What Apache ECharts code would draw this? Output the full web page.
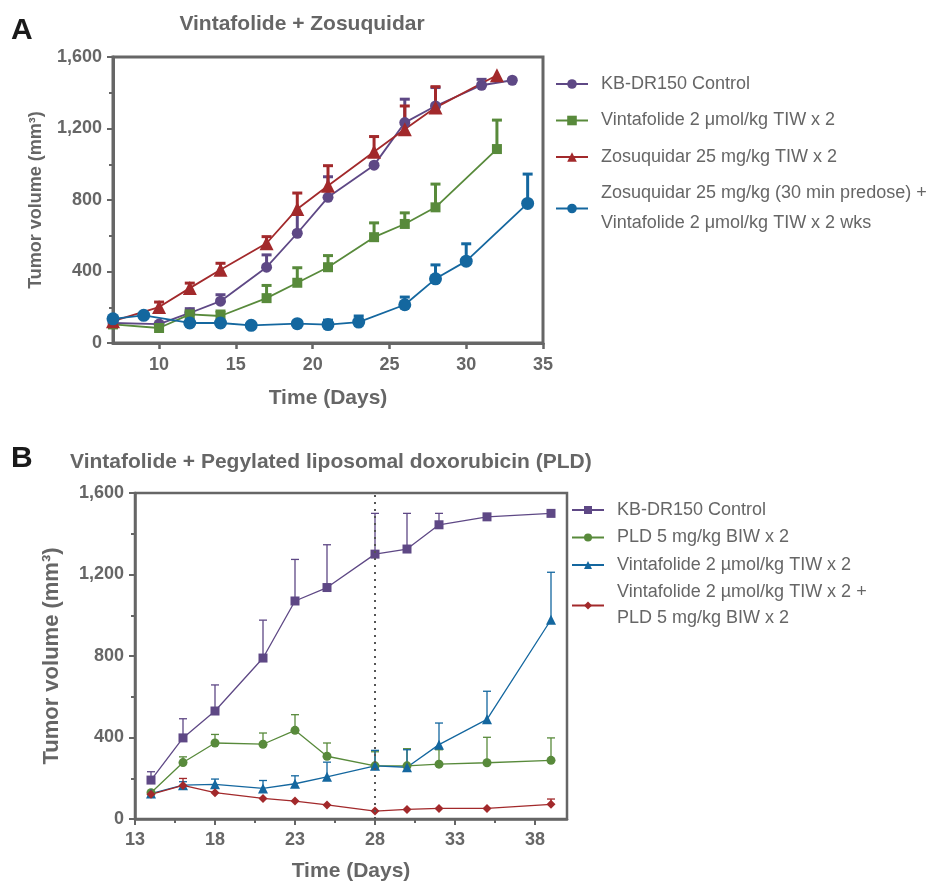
<!DOCTYPE html>
<html>
<head>
<meta charset="utf-8">
<script src="https://cdn.jsdelivr.net/npm/echarts@6/dist/echarts.min.js"></script>
<style>
html, body { margin: 0; padding: 0; background: #fff; }
#chart { width: 937px; height: 883px; }
</style>
</head>
<body>
<div id="chart"></div>
<script>
// ---- panel A : Vintafolide + Zosuquidar ----
var daysCtrlA  = [7, 10, 12, 14, 17, 19, 21, 24, 26, 28, 31, 33];
var ctrlA      = [112, 106, 168, 234, 424, 614, 815, 995, 1233, 1326, 1442, 1470];
var ctrlTopA   = [null, null, 192, 270, 493, 722, 930, null, 1364, 1429, 1475, null];

var daysVintaA = [7, 10, 12, 14, 17, 19, 21, 24, 26, 28, 32];
var vintaA     = [104, 84, 160, 151, 251, 337, 424, 592, 666, 759, 1085];
var vintaTopA  = [null, null, 178, 179, 322, 421, 489, 672, 728, 889, 1247];

var daysZosA   = [7, 10, 12, 14, 17, 19, 21, 24, 26, 28, 32];
var zosA       = [122, 201, 307, 410, 558, 750, 880, 1070, 1196, 1317, 1498];
var zosTopA    = [null, 229, 335, 446, 595, 839, 992, 1155, 1326, 1434, null];

var daysComboA = [7, 9, 12, 14, 16, 19, 21, 23, 26, 28, 30, 34];
var comboA     = [135, 155, 112, 112, 99, 108, 103, 117, 214, 359, 458, 781];
var comboTopA  = [null, null, null, null, null, null, 128, 151, 257, 437, 555, 945];

var xTicksA = [10, 15, 20, 25, 30, 35];

// ---- panel B : Vintafolide + PLD ----
var daysB      = [14, 16, 18, 21, 23, 25, 28, 30, 32, 35, 39];
var ctrlB      = [191, 398, 530, 790, 1070, 1136, 1300, 1325, 1444, 1483, 1500];
var ctrlTopB   = [232, 492, 658, 976, 1274, 1346, 1500, 1500, 1500, null, null];
var pldB       = [129, 277, 373, 367, 435, 308, 261, 261, 269, 276, 288];
var pldTopB    = [null, 305, 415, 422, 512, 373, 330, 345, 340, 401, 398];
var vintaB     = [125, 166, 170, 150, 173, 207, 261, 254, 365, 489, 978];
var vintaTopB  = [null, 183, 196, 189, 212, 279, 337, 340, 471, 627, 1211];
var comboB     = [121, 165, 129, 101, 88, 69, 39, 47, 52, 52, 72];
var comboTopB  = [null, 199, null, null, null, null, null, null, null, null, 98];

var xTicksB = [13, 18, 23, 28, 33, 38];
var xMinorB = [15.5, 20.5, 25.5, 30.5, 35.5];

var purple = '#5e4885', green = '#588a3b', red = '#a2292b', blue = '#14679f';
var grey = '#666666';
var font = "'Liberation Sans', Arial, sans-serif";

function pts(days, vals) {
  return days.map(function (d, i) { return [d, vals[i]]; });
}
function bars(days, vals, tops) {
  var out = [];
  days.forEach(function (d, i) {
    if (tops[i] != null) out.push([d, vals[i], tops[i]]);
  });
  return out;
}

function errSeries(idx, data, color, lw, cap) {
  return {
    type: 'custom',
    xAxisIndex: idx, yAxisIndex: idx,
    z: 1,
    silent: true,
    encode: { x: 0, y: [1, 2] },
    data: data,
    renderItem: function (params, api) {
      var p0 = api.coord([api.value(0), api.value(1)]);
      var p1 = api.coord([api.value(0), api.value(2)]);
      return {
        type: 'group',
        children: [
          { type: 'line', shape: { x1: p0[0], y1: p0[1], x2: p1[0], y2: p1[1] }, style: { stroke: color, lineWidth: lw } },
          { type: 'line', shape: { x1: p1[0] - cap, y1: p1[1], x2: p1[0] + cap, y2: p1[1] }, style: { stroke: color, lineWidth: lw } }
        ]
      };
    }
  };
}

function lineSeries(idx, name, data, color, symbol, size, lw) {
  return {
    type: 'line', name: name,
    xAxisIndex: idx, yAxisIndex: idx,
    z: 2,
    data: data,
    symbol: symbol, symbolSize: size,
    showAllSymbol: true,
    itemStyle: { color: color },
    lineStyle: { color: color, width: lw }
  };
}

var nA1 = 'A|KB-DR150 Control';
var nA2 = 'A|Vintafolide 2 \u03bcmol/kg TIW x 2';
var nA3 = 'A|Zosuquidar 25 mg/kg TIW x 2';
var nA4 = 'A|Zosuquidar 25 mg/kg (30 min predose) +\nVintafolide 2 \u03bcmol/kg TIW x 2 wks';
var nB1 = 'B|KB-DR150 Control';
var nB2 = 'B|PLD 5 mg/kg BIW x 2';
var nB3 = 'B|Vintafolide 2 \u00b5mol/kg TIW x 2';
var nB4 = 'B|Vintafolide 2 \u00b5mol/kg TIW x 2 +\nPLD 5 mg/kg BIW x 2';

function yAxisCfg(idx, lw, nameGap, nameSize) {
  return {
    type: 'value', gridIndex: idx,
    min: 0, max: 1600, interval: 400,
    name: 'Tumor volume (mm\u00b3)',
    nameLocation: 'middle', nameGap: nameGap,
    nameTextStyle: { color: grey, fontWeight: 'bold', fontSize: nameSize, fontFamily: font },
    axisLine: { show: true, lineStyle: { color: grey, width: lw } },
    axisTick: { show: true, length: 6, lineStyle: { color: grey, width: 2 } },
    minorTick: { show: true, splitNumber: 2, length: 4, lineStyle: { color: grey, width: 2 } },
    splitLine: { show: false },
    axisLabel: {
      color: grey, fontWeight: 'bold', fontSize: 18, fontFamily: font, margin: 11,
      formatter: function (v) { return v.toLocaleString('en-US'); }
    }
  };
}

var chart = echarts.init(document.getElementById('chart'));

var option = {
  animation: false,
  backgroundColor: '#fff',
  graphic: [
    { type: 'text', x: 11, y: 31, style: { text: 'A', font: 'bold 30px ' + font, fill: '#1a1a1a', textVerticalAlign: 'middle' } },
    { type: 'text', x: 302, y: 24, style: { text: 'Vintafolide + Zosuquidar', font: 'bold 21px ' + font, fill: grey, textAlign: 'center', textVerticalAlign: 'middle' } },
    { type: 'text', x: 11, y: 459, style: { text: 'B', font: 'bold 30px ' + font, fill: '#1a1a1a', textVerticalAlign: 'middle' } },
    { type: 'text', x: 70, y: 462, style: { text: 'Vintafolide + Pegylated liposomal doxorubicin (PLD)', font: 'bold 21px ' + font, fill: grey, textVerticalAlign: 'middle' } }
  ],
  grid: [
    { left: 113, top: 57, width: 430, height: 286, show: true, borderColor: grey, borderWidth: 3, backgroundColor: 'transparent' },
    { left: 135, top: 493, width: 432, height: 328, show: true, borderColor: grey, borderWidth: 2.5, backgroundColor: 'transparent' }
  ],
  legend: [
    {
      orient: 'vertical', left: 555, top: 69, padding: 0,
      itemWidth: 32, itemHeight: 12, itemGap: 6.5,
      data: [nA1, nA2, nA3, nA4],
      formatter: function (n) { return n.split('|')[1]; },
      textStyle: { color: grey, fontSize: 18, lineHeight: 30, fontFamily: font, padding: [0, 0, 0, 8] }
    },
    {
      orient: 'vertical', left: 571, top: 497, padding: 0,
      itemWidth: 32, itemHeight: 10, itemGap: 1.5,
      data: [nB1, nB2, nB3, nB4],
      formatter: function (n) { return n.split('|')[1]; },
      textStyle: { color: grey, fontSize: 18, lineHeight: 26, fontFamily: font, padding: [0, 0, 0, 8] }
    }
  ],
  xAxis: [
    {
      type: 'value', gridIndex: 0, min: 7, max: 35, position: 'bottom',
      name: 'Time (Days)', nameLocation: 'middle', nameGap: 45,
      nameTextStyle: { color: grey, fontWeight: 'bold', fontSize: 21, fontFamily: font },
      axisLine: { show: true, lineStyle: { color: grey, width: 3 } },
      axisTick: { show: true, length: 6, customValues: xTicksA, lineStyle: { color: grey, width: 2.5 } },
      splitLine: { show: false },
      axisLabel: { color: grey, fontWeight: 'bold', fontSize: 18, fontFamily: font, margin: 13, customValues: xTicksA }
    },
    {
      type: 'value', gridIndex: 1, min: 13, max: 40, position: 'bottom',
      name: 'Time (Days)', nameLocation: 'middle', nameGap: 42,
      nameTextStyle: { color: grey, fontWeight: 'bold', fontSize: 21, fontFamily: font },
      axisLine: { show: true, lineStyle: { color: grey, width: 2.5 } },
      axisTick: { show: true, length: 6, customValues: xTicksB, lineStyle: { color: grey, width: 2 } },
      splitLine: { show: false },
      axisLabel: { color: grey, fontWeight: 'bold', fontSize: 18, fontFamily: font, margin: 12, customValues: xTicksB }
    },
    {
      // minor ticks only, on the same bottom line
      type: 'value', gridIndex: 1, min: 13, max: 40, position: 'bottom', offset: 0,
      axisLine: { show: false },
      axisTick: { show: true, length: 4, customValues: xMinorB, lineStyle: { color: grey, width: 2 } },
      axisLabel: { show: false },
      splitLine: { show: false }
    }
  ],
  yAxis: [
    yAxisCfg(0, 3, 68, 18),
    yAxisCfg(1, 2.5, 72, 22)
  ],
  series: [
    errSeries(0, bars(daysCtrlA, ctrlA, ctrlTopA), purple, 3, 5),
    errSeries(0, bars(daysVintaA, vintaA, vintaTopA), green, 3, 5),
    errSeries(0, bars(daysZosA, zosA, zosTopA), red, 3, 5),
    errSeries(0, bars(daysComboA, comboA, comboTopA), blue, 3, 5),
    lineSeries(0, nA1, pts(daysCtrlA, ctrlA), purple, 'circle', 11, 1.8),
    lineSeries(0, nA2, pts(daysVintaA, vintaA), green, 'rect', 10, 1.8),
    lineSeries(0, nA3, pts(daysZosA, zosA), red, 'triangle', 14, 1.8),
    lineSeries(0, nA4, pts(daysComboA, comboA), blue, 'circle', 13, 1.8),

    errSeries(1, bars(daysB, ctrlB, ctrlTopB), purple, 1.3, 4),
    errSeries(1, bars(daysB, pldB, pldTopB), green, 1.3, 4),
    errSeries(1, bars(daysB, vintaB, vintaTopB), blue, 1.3, 4),
    errSeries(1, bars(daysB, comboB, comboTopB), red, 1.3, 4),
    (function () {
      var s = lineSeries(1, nB1, pts(daysB, ctrlB), purple, 'rect', 9, 1.3);
      s.markLine = {
        silent: true, symbol: 'none', label: { show: false },
        lineStyle: { color: '#555', width: 2, type: [2, 5] },
        data: [{ xAxis: 28 }]
      };
      return s;
    })(),
    lineSeries(1, nB2, pts(daysB, pldB), green, 'circle', 9, 1.3),
    lineSeries(1, nB3, pts(daysB, vintaB), blue, 'triangle', 10, 1.3),
    lineSeries(1, nB4, pts(daysB, comboB), red, 'diamond', 9, 1.3)
  ]
};

chart.setOption(option);
</script>
</body>
</html>
